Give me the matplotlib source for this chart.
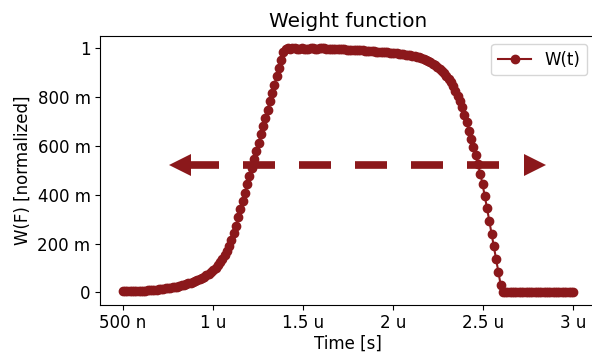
import numpy as np
import matplotlib
matplotlib.use("Agg")
import matplotlib.pyplot as plt
import matplotlib.transforms as mtransforms

plt.rcParams["font.size"] = 12

# ---- data ----
t_start_us, t_stop_us, n_samples = 0.5, 3.0, 200
weight = [
    0.004, 0.004, 0.004, 0.005, 0.005, 0.005, 0.006, 0.006, 0.007, 0.007,
    0.008, 0.009, 0.010, 0.011, 0.011, 0.012, 0.013, 0.014, 0.016, 0.017,
    0.018, 0.020, 0.021, 0.023, 0.024, 0.026, 0.029, 0.031, 0.033, 0.037,
    0.040, 0.044, 0.048, 0.052, 0.056, 0.060, 0.065, 0.071, 0.077, 0.083,
    0.090, 0.100, 0.111, 0.123, 0.137, 0.152, 0.170, 0.190, 0.214, 0.242,
    0.273, 0.307, 0.340, 0.374, 0.408, 0.442, 0.476, 0.510, 0.544, 0.578,
    0.612, 0.646, 0.680, 0.714, 0.748, 0.782, 0.816, 0.850, 0.884, 0.918,
    0.952, 0.985, 0.996, 0.998, 0.997, 0.999, 0.998, 0.996, 0.997, 0.999,
    0.997, 0.995, 0.996, 0.998, 0.999, 0.997, 0.996, 0.998, 0.999, 0.998,
    0.996, 0.995, 0.996, 0.997, 0.996, 0.994, 0.995, 0.996, 0.995, 0.993,
    0.992, 0.993, 0.993, 0.991, 0.990, 0.991, 0.991, 0.989, 0.988, 0.989,
    0.988, 0.986, 0.985, 0.985, 0.984, 0.983, 0.982, 0.982, 0.981, 0.980,
    0.979, 0.978, 0.977, 0.976, 0.975, 0.973, 0.972, 0.970, 0.968, 0.966,
    0.964, 0.961, 0.958, 0.955, 0.951, 0.947, 0.942, 0.936, 0.930, 0.923,
    0.915, 0.907, 0.898, 0.887, 0.874, 0.860, 0.843, 0.825, 0.805, 0.783,
    0.758, 0.725, 0.695, 0.662, 0.628, 0.595, 0.562, 0.525, 0.486, 0.443,
    0.394, 0.344, 0.292, 0.240, 0.188, 0.136, 0.084, 0.032, 0.002, 0.002,
    0.002, 0.002, 0.002, 0.002, 0.002, 0.002, 0.002, 0.002, 0.002, 0.002,
    0.002, 0.002, 0.002, 0.002, 0.002, 0.002, 0.002, 0.002, 0.002, 0.002,
    0.002, 0.002, 0.002, 0.002, 0.002, 0.002, 0.002, 0.002, 0.002, 0.002,
]
time_s = np.linspace(t_start_us, t_stop_us, n_samples) * 1e-6

# dashed double arrow (data coords)
arrow_y = 0.52
arrow_x_tips = [0.752e-6, 2.853e-6]
arrow_x_line = [0.859e-6, 2.72e-6]

xticks = [0.5e-6, 1.0e-6, 1.5e-6, 2.0e-6, 2.5e-6, 3.0e-6]
xticklabels = ["500 n", "1 u", "1.5 u", "2 u", "2.5 u", "3 u"]
yticks = [0.0, 0.2, 0.4, 0.6, 0.8, 1.0]
yticklabels = ["0", "200 m", "400 m", "600 m", "800 m", "1"]

color = "#8b181b"

# ---- figure ----
fig = plt.figure(figsize=(5.92, 3.54), dpi=100)
ax = fig.add_axes([0.1693, 0.1393, 0.8367, 0.7599])

lw_arrow = 5.5
ax.plot(arrow_x_line, [arrow_y, arrow_y], color=color, lw=lw_arrow,
        dashes=[32 * 0.72 / lw_arrow, 24 * 0.72 / lw_arrow],
        dash_capstyle="butt", zorder=2)
head_ms = 16.5
ax.plot([arrow_x_tips[0]], [arrow_y], marker="<", ms=head_ms, color=color, mew=0,
        ls="none", zorder=2, transform=ax.transData +
        mtransforms.ScaledTranslation(head_ms / 2 / 72, 0, fig.dpi_scale_trans))
ax.plot([arrow_x_tips[1]], [arrow_y], marker=">", ms=head_ms, color=color, mew=0,
        ls="none", zorder=2, transform=ax.transData +
        mtransforms.ScaledTranslation(-head_ms / 2 / 72, 0, fig.dpi_scale_trans))

ax.plot(time_s, weight, "o-", color=color, ms=6, lw=1.5, label="W(t)", zorder=3)

ax.set_xlim(0.375e-6, 3.125e-6)
ax.set_ylim(-0.05, 1.05)
ax.set_xticks(xticks)
ax.set_xticklabels(xticklabels)
ax.set_yticks(yticks)
ax.set_yticklabels(yticklabels)
ax.set_xlabel("Time [s]", labelpad=2)
ax.set_ylabel("W(F) [normalized]")
ax.set_title("Weight function")
ax.legend(loc="upper right")

fig.savefig("out.png", dpi=100)
